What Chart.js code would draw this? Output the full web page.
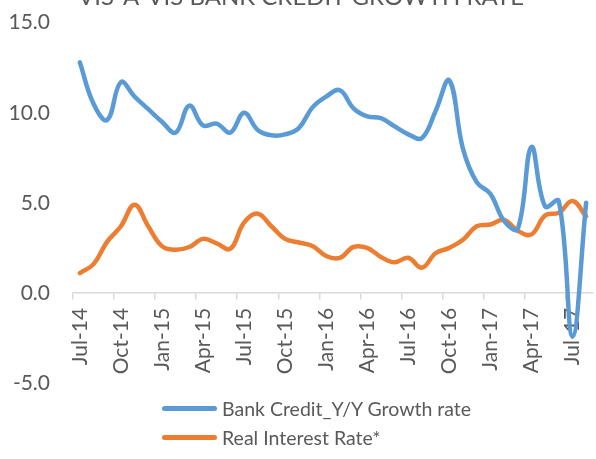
<!DOCTYPE html>
<html>
<head>
<meta charset="utf-8">
<script src="https://cdn.jsdelivr.net/npm/chart.js@4.4.0/dist/chart.umd.min.js"></script>
<style>
  body { margin: 0; background: #fff; }
  #wrap { position: relative; width: 596px; height: 459px; overflow: hidden; }
  #wrap canvas { position: absolute; left: 0; top: -17px; }
  #legend { position: absolute; left: 162px; top: 394px; font-family: Lato, sans-serif; font-size: 19.5px; color: #595959; }
  #legend .item { display: flex; align-items: center; height: 29px; white-space: nowrap; }
  #legend .swatch { width: 55px; height: 5px; border-radius: 3px; margin-right: 5px; }
</style>
</head>
<body>
<div id="wrap">
  <canvas id="bieuDo" width="596" height="476"></canvas>
  <div id="legend"></div>
</div>
<script>
// monthly categories, Jul-14 .. Aug-17
const thang = [
  'Jul-14', 'Aug-14', 'Sep-14', 'Oct-14', 'Nov-14', 'Dec-14',
  'Jan-15', 'Feb-15', 'Mar-15', 'Apr-15', 'May-15', 'Jun-15',
  'Jul-15', 'Aug-15', 'Sep-15', 'Oct-15', 'Nov-15', 'Dec-15',
  'Jan-16', 'Feb-16', 'Mar-16', 'Apr-16', 'May-16', 'Jun-16',
  'Jul-16', 'Aug-16', 'Sep-16', 'Oct-16', 'Nov-16', 'Dec-16',
  'Jan-17', 'Feb-17', 'Mar-17', 'Apr-17', 'May-17', 'Jun-17',
  'Jul-17', 'Aug-17'
];

const tangTruongTinDung = [
  12.8, 10.5, 9.6, 11.7, 10.9, 10.2, 9.5, 8.9, 10.4, 9.3, 9.4, 8.9,
  10.0, 9.05, 8.75, 8.8, 9.15, 10.3, 10.9, 11.25, 10.25, 9.8, 9.7, 9.25,
  8.8, 8.6, 10.1, 11.8, 8.0, 6.15, 5.5, 4.0, 3.55, 8.1, 4.8, 5.1,
  -2.4, 5.0
];

const laiSuatThuc = [
  1.1, 1.6, 2.85, 3.7, 4.9, 3.7, 2.6, 2.4, 2.55, 3.0, 2.75, 2.45,
  3.9, 4.4, 3.7, 3.0, 2.8, 2.6, 2.05, 1.95, 2.55, 2.5, 2.0, 1.7,
  1.95, 1.4, 2.2, 2.5, 2.95, 3.7, 3.8, 4.05, 3.45, 3.25, 4.3, 4.45,
  5.1, 4.25
];

const tenChuoi = ['Bank Credit_Y/Y Growth rate', 'Real Interest Rate*'];
const mauChuoi = ['#5b9bd5', '#ed7d31'];
const mocTrucY = [-5, 15, 5];   // min, max, step

const mauChu = '#595959';
const fontChu = 'Lato, sans-serif';

const ctx = document.getElementById('bieuDo').getContext('2d');

const bieuDo = new Chart(ctx, {
    type: 'line',
    data: {
        labels: thang,
        datasets: [
            { label: tenChuoi[0], data: tangTruongTinDung, borderColor: mauChuoi[0] },
            { label: tenChuoi[1], data: laiSuatThuc, borderColor: mauChuoi[1] }
        ]
    },
    options: {
        responsive: false,
        animation: false,
        layout: { padding: { left: 9, right: 3, top: 0, bottom: 76 } },
        elements: {
            line: { borderWidth: 4.5, tension: 0.4, borderCapStyle: 'round', borderJoinStyle: 'round' },
            point: { radius: 0, hoverRadius: 0 }
        },
        plugins: {
            legend: { display: false },
            tooltip: { enabled: false },
            title: {
                display: true,
                text: 'VIS-A-VIS BANK CREDIT GROWTH RATE',
                color: mauChu,
                font: { family: fontChu, size: 24, weight: 'normal' },
                padding: { top: 0, bottom: 10.9 }
            }
        },
        scales: {
            x: {
                position: { y: 0 },
                offset: true,
                grid: {
                    offset: true,
                    drawOnChartArea: false,
                    tickLength: 6,
                    lineWidth: 1.5,
                    // tick marks only every quarter
                    color: (c) => (c.index % 3 === 0 ? '#d9d9d9' : 'rgba(0,0,0,0)')
                },
                border: { display: true, color: '#d9d9d9', width: 1.5 },
                ticks: {
                    autoSkip: false,
                    minRotation: 90,
                    maxRotation: 90,
                    padding: 9,
                    color: mauChu,
                    font: { family: fontChu, size: 21 },
                    callback: function (val, i) {
                        return i % 3 === 0 ? this.getLabelForValue(val) : '';
                    }
                },
                // nhãn xoay không cần chừa lề hai bên
                afterFit: (s) => { s.paddingLeft = 0; s.paddingRight = 0; }
            },
            y: {
                min: mocTrucY[0],
                max: mocTrucY[1],
                grid: { display: false, drawTicks: false },
                border: { display: false },
                ticks: {
                    stepSize: mocTrucY[2],
                    padding: 23,
                    color: mauChu,
                    font: { family: fontChu, size: 21 },
                    callback: (v) => v.toFixed(1)
                },
                afterFit: (s) => { s.width = 64; }
            }
        }
    }
});

// chú thích dạng HTML, xếp dọc
const khungChuThich = document.getElementById('legend');
bieuDo.data.datasets.forEach((ds) => {
    const dong = document.createElement('div');
    dong.className = 'item';
    const vach = document.createElement('span');
    vach.className = 'swatch';
    vach.style.background = ds.borderColor;
    const chu = document.createElement('span');
    chu.textContent = ds.label;
    dong.appendChild(vach);
    dong.appendChild(chu);
    khungChuThich.appendChild(dong);
});
</script>
</body>
</html>
